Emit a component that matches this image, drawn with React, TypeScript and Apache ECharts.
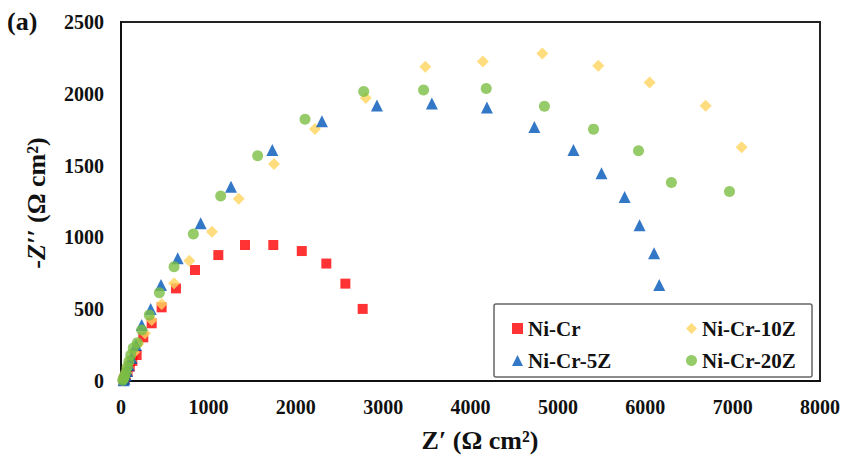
import React, { useEffect, useRef } from "react";
import * as echarts from "echarts";

const seriesNames = ["Ni-Cr", "Ni-Cr-10Z", "Ni-Cr-5Z", "Ni-Cr-20Z"];

const niCr: number[][] = [
  [30, 5], [40, 15], [55, 35], [75, 65], [100, 100], [130, 140], [179, 181],
  [255, 304], [351, 402], [465, 513], [629, 645], [847, 773], [1114, 877],
  [1419, 947], [1743, 947], [2069, 905], [2350, 818], [2568, 678], [2766, 502],
];

const niCr10Z: number[][] = [
  [30, 5], [45, 25], [60, 55], [80, 90], [110, 140], [150, 200], [200, 260],
  [275, 332], [351, 425], [465, 536], [607, 680], [782, 838], [1041, 1040],
  [1347, 1270], [1751, 1511], [2220, 1755], [2802, 1970], [3483, 2188],
  [4141, 2225], [4822, 2281], [5463, 2195], [6050, 2079], [6691, 1916], [7103, 1628],
];

const niCr5Z: number[][] = [
  [30, 5], [40, 15], [55, 40], [70, 70], [90, 110], [120, 160], [170, 250],
  [237, 390], [340, 501], [458, 668], [649, 854], [912, 1098], [1259, 1353],
  [1732, 1609], [2300, 1808], [2929, 1918], [3558, 1933], [4188, 1905],
  [4731, 1768], [5178, 1608], [5499, 1447], [5764, 1282], [5935, 1085],
  [6101, 890], [6160, 669],
];

const niCr20Z: number[][] = [
  [20, 5], [30, 15], [40, 35], [55, 60], [70, 95], [90, 135], [111, 181],
  [140, 230], [187, 267], [237, 355], [324, 460], [439, 615], [607, 796],
  [828, 1024], [1141, 1288], [1564, 1569], [2106, 1822], [2778, 2016],
  [3463, 2026], [4180, 2037], [4846, 1914], [5408, 1754], [5923, 1603],
  [6299, 1382], [6964, 1319],
];

const xTicks = { min: 0, max: 8000, interval: 1000 };
const yTicks = { min: 0, max: 2500, interval: 500 };

const FONT = "Liberation Serif";

export default function App() {
  const ref = useRef<HTMLDivElement>(null);

  useEffect(() => {
    if (!ref.current) return;
    const chart = echarts.init(ref.current, undefined, { renderer: "svg" });

    const legendText = {
      fontFamily: FONT,
      fontWeight: "bold" as const,
      fontSize: 21,
      color: "#111",
    };

    chart.setOption({
      animation: false,
      backgroundColor: "#ffffff",
      grid: {
        left: 121,
        right: 22,
        top: 22,
        bottom: 80,
        show: true,
        borderColor: "#222",
        borderWidth: 2,
        backgroundColor: "transparent",
        containLabel: false,
        outerBoundsMode: "none",
      },
      xAxis: {
        type: "value",
        min: xTicks.min,
        max: xTicks.max,
        interval: xTicks.interval,
        axisLine: { show: true, lineStyle: { color: "#111", width: 2 } },
        axisTick: { show: false },
        splitLine: { show: false },
        axisLabel: {
          margin: 16,
          fontFamily: FONT,
          fontWeight: "bold",
          fontSize: 20,
          color: "#111",
          overflow: "none",
          showMaxLabel: true,
          formatter: (v: number) => String(v),
        },
      },
      yAxis: {
        type: "value",
        min: yTicks.min,
        max: yTicks.max,
        interval: yTicks.interval,
        axisLine: { show: true, lineStyle: { color: "#111", width: 2 } },
        axisTick: { show: false },
        splitLine: { show: false },
        axisLabel: {
          margin: 17,
          fontFamily: FONT,
          fontWeight: "bold",
          fontSize: 20,
          color: "#111",
          formatter: (v: number) => String(v),
        },
      },
      legend: [
        {
          orient: "vertical",
          left: 507,
          top: 313,
          itemWidth: 11,
          itemHeight: 11,
          itemGap: 11,
          data: [
            { name: seriesNames[0], icon: "rect" },
            { name: seriesNames[2], icon: "triangle" },
          ],
          textStyle: legendText,
        },
        {
          orient: "vertical",
          left: 681,
          top: 313,
          itemWidth: 11,
          itemHeight: 11,
          itemGap: 11,
          data: [
            { name: seriesNames[1], icon: "diamond" },
            { name: seriesNames[3], icon: "circle" },
          ],
          textStyle: legendText,
        },
      ],
      graphic: [
        {
          type: "rect",
          shape: { x: 494, y: 304, width: 318, height: 73, r: 2 },
          style: { fill: "transparent", stroke: "#666", lineWidth: 1.5 },
          z: 100,
        },
        {
          type: "text",
          x: 7,
          y: 21,
          style: {
            text: "(a)",
            fontFamily: FONT,
            fontWeight: "bold",
            fontSize: 26,
            fill: "#111",
            align: "left",
            verticalAlign: "middle",
          },
        },
        {
          type: "text",
          x: 480,
          y: 440,
          style: {
            text: "Z′ (Ω cm²)",
            fontFamily: FONT,
            fontWeight: "bold",
            fontSize: 26,
            fill: "#111",
            align: "center",
            verticalAlign: "middle",
          },
        },
        {
          type: "text",
          x: 36,
          y: 203,
          rotation: Math.PI / 2,
          style: {
            text: "{n|-}{i|Z′′}{n| (Ω cm²)}",
            align: "center",
            verticalAlign: "middle",
            fill: "#111",
            rich: {
              n: { fontFamily: FONT, fontWeight: "bold", fontSize: 26, fill: "#111" },
              i: { fontFamily: FONT, fontWeight: "bold", fontStyle: "italic", fontSize: 26, fill: "#111" },
            },
          },
        },
      ],
      series: [
        {
          name: seriesNames[0],
          type: "scatter",
          symbol: "rect",
          symbolSize: 10,
          itemStyle: { color: "#FF0000" },
          data: niCr,
        },
        {
          name: seriesNames[1],
          type: "scatter",
          symbol: "diamond",
          symbolSize: 12,
          itemStyle: { color: "#FFD55E" },
          data: niCr10Z,
        },
        {
          name: seriesNames[2],
          type: "scatter",
          symbol: "triangle",
          symbolSize: 12,
          itemStyle: { color: "#0056B8" },
          data: niCr5Z,
        },
        {
          name: seriesNames[3],
          type: "scatter",
          symbol: "circle",
          symbolSize: 11,
          itemStyle: { color: "#7CBE44" },
          data: niCr20Z,
        },
      ],
    });

    return () => chart.dispose();
  }, []);

  return (
    <div
      ref={ref}
      style={{ position: "absolute", left: 0, top: 0, width: 842, height: 461 }}
    />
  );
}
